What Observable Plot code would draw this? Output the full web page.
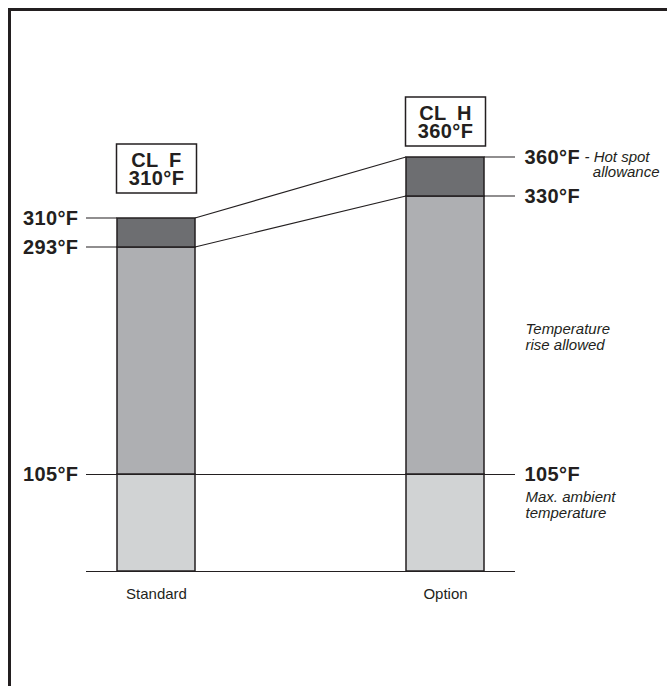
<!DOCTYPE html>
<html>
<head>
<meta charset="utf-8">
<script src="https://cdn.jsdelivr.net/npm/d3@7"></script>
<script src="https://cdn.jsdelivr.net/npm/@observablehq/plot@0.6"></script>
<style>
  html, body { margin: 0; padding: 0; background: #fff; }
  #wrap { position: relative; width: 667px; height: 686px; overflow: hidden; background: #fff; }
  #frame { position: absolute; left: 8px; top: 8px; right: -10px; bottom: -10px;
           border-top: 3px solid #231f20; border-left: 3px solid #231f20; pointer-events: none; }
  #chart svg { display: block; }
  #chart g[font-weight="bold"] text { letter-spacing: 0.4px; }
  #chart g[font-style="italic"] text { white-space: pre; }
</style>
</head>
<body>
<div id="wrap"><div id="chart"></div><div id="frame"></div></div>
<script>
// ---- data ----
const categories = ["Standard", "Option"];
const classNames = ["CL F", "CL H"];
const bandNames = ["Max. ambient temperature", "Temperature rise allowed", "Hot spot allowance"];
const ambientTop = [105, 105];   // °F
const riseTop = [293, 330];      // °F
const hotSpotTop = [310, 360];   // °F
const bandColors = ["#d1d3d4", "#aeafb2", "#6d6e71"];

// ---- derived tables ----
const segments = categories.flatMap((c, i) => [
  {cat: c, band: bandNames[0], y1: 0, y2: ambientTop[i]},
  {cat: c, band: bandNames[1], y1: ambientTop[i], y2: riseTop[i]},
  {cat: c, band: bandNames[2], y1: riseTop[i], y2: hotSpotTop[i]}
]);
const leftLabels = [ambientTop[0], riseTop[0], hotSpotTop[0]];
const rightLabels = [ambientTop[1], riseTop[1], hotSpotTop[1]];
const leaders = [
  {from: hotSpotTop[0], to: hotSpotTop[1]},
  {from: riseTop[0], to: riseTop[1]}
];
const classBoxes = categories.map((c, i) => ({cat: c, name: classNames[i], temp: hotSpotTop[i]}));
const deg = v => `${v}°F`;

// schematic (non-proportional) temperature axis: piecewise stretch applied before the linear y scale
const yBreaks = [0, ambientTop[0], riseTop[0], hotSpotTop[0], riseTop[1], hotSpotTop[1]];
const schematic = d3.scaleLinear().domain(yBreaks).range([0, 97, 324, 353, 375, 414]);

const boxGap = {Standard: 25, Option: 11};

function leaderAndBoxes(index, scales, values, dims) {
  const x = scales.x, bw = x.bandwidth();
  const y = v => scales.y(schematic(v));
  const left = dims.marginLeft, right = dims.width - dims.marginRight;
  const xs = x(categories[0]), xo = x(categories[1]);
  const g = d3.create("svg:g");
  const lg = g.append("g").attr("fill", "none").attr("stroke", "#231f20").attr("stroke-width", 1.2);
  for (const l of leaders) {
    lg.append("path").attr("d",
      `M${left},${y(l.from)}H${xs}M${xs + bw},${y(l.from)}L${xo},${y(l.to)}M${xo + bw},${y(l.to)}H${right}`);
  }
  for (const b of classBoxes) {
    const bx = x(b.cat) - 0.5;
    const bottom = y(b.temp) - boxGap[b.cat];
    const top = bottom - 49;
    const cx = bx + (bw + 2) / 2;
    g.append("rect").attr("x", bx).attr("y", top).attr("width", bw + 2).attr("height", 49)
      .attr("fill", "#fff").attr("stroke", "#231f20").attr("stroke-width", 1.5);
    const t = g.append("text").attr("text-anchor", "middle").attr("font-weight", "bold")
      .attr("font-size", 20).attr("fill", "#231f20").style("letter-spacing", "0.4px")
      .style("white-space", "pre");
    t.append("tspan").attr("x", cx).attr("y", top + 22.7).text(b.name.replace(" ", "\u2002"));
    t.append("tspan").attr("x", cx).attr("y", top + 41).text(deg(b.temp));
  }
  return g.node();
}

const chart = Plot.plot({
  width: 667,
  height: 686,
  marginLeft: 86,
  marginRight: 152,
  marginTop: 157,
  marginBottom: 115,
  style: {fontFamily: "'Liberation Sans', Arial, Helvetica, sans-serif", background: "transparent", color: "#231f20"},
  x: {domain: categories, paddingInner: 0.73, paddingOuter: 0.107, axis: null},
  y: {type: "linear", transform: schematic, domain: [0, 414], range: [571, 157], axis: null},
  color: {domain: bandNames, range: bandColors},
  marks: [
    Plot.barY(segments, {x: "cat", y1: "y1", y2: "y2", fill: "band", stroke: "#231f20", strokeWidth: 1.5}),
    Plot.ruleY([0, ambientTop[0]], {stroke: "#231f20", strokeWidth: 1.2}),
    leaderAndBoxes,
    Plot.text(leftLabels, {y: d => d, text: deg, frameAnchor: "left", textAnchor: "end", dx: -8,
      fontSize: 20, fontWeight: "bold", fill: "#231f20"}),
    Plot.text(rightLabels, {y: d => d, text: deg, frameAnchor: "right", textAnchor: "start", dx: 9,
      fontSize: 20, fontWeight: "bold", fill: "#231f20"}),
    Plot.text(["- Hot spot\n  allowance"], {y: () => hotSpotTop[1], text: d => d, frameAnchor: "right",
      textAnchor: "start", lineAnchor: "top", dx: 69, dy: -6.5, lineHeight: 1.0, fontSize: 15,
      fontStyle: "italic", fill: "#231f20"}),
    Plot.text(["Temperature\nrise allowed"], {y: () => (ambientTop[1] + riseTop[1]) / 2, text: d => d,
      frameAnchor: "right", textAnchor: "start", dx: 10, dy: -2, lineHeight: 1.05, fontSize: 15, fontStyle: "italic", fill: "#231f20"}),
    Plot.text(["Max. ambient\ntemperature"], {y: () => ambientTop[1], text: d => d,
      frameAnchor: "right", textAnchor: "start", dx: 10, dy: 30, lineHeight: 1.07, fontSize: 15, fontStyle: "italic", fill: "#231f20"}),
    Plot.text(categories, {x: d => d, text: d => d, frameAnchor: "bottom", lineAnchor: "top", dy: 17,
      fontSize: 15, fill: "#231f20"})
  ]
});
document.getElementById("chart").appendChild(chart);
</script>
</body>
</html>
